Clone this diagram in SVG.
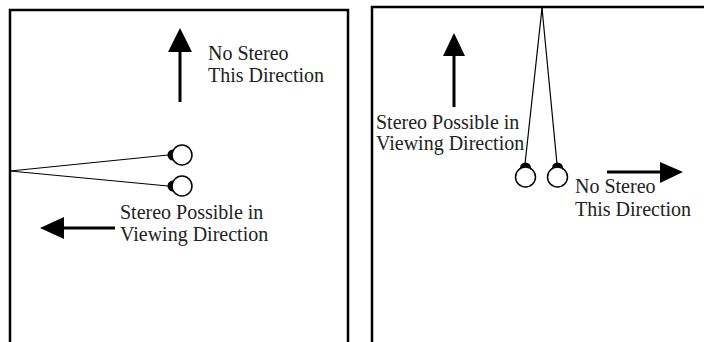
<svg xmlns="http://www.w3.org/2000/svg" width="704" height="342" viewBox="0 0 704 342">
<style>
.frame{fill:none;stroke:#000;stroke-width:2.5}
.ray{fill:none;stroke:#000;stroke-width:1.2}
.shaft{fill:none;stroke:#000;stroke-width:3}
.head{fill:#000}
.cam{fill:#fff;stroke:#000;stroke-width:1.5}
.cap{fill:#000}
text{font-family:"Liberation Serif","Times New Roman",serif;font-size:20px;fill:#222}
</style>
<rect width="704" height="342" fill="#fff"/>
<g id="panel-left">
<rect class="frame" x="10" y="10" width="338" height="340"/>
</g>
<g id="panel-right">
<rect class="frame" x="372" y="7" width="340" height="345"/>
</g>
<g id="connectors">
<path class="ray" d="M10,171 L168,155"/>
<path class="ray" d="M10,171 L168,186"/>
<path class="ray" d="M542,8 L525,164"/>
<path class="ray" d="M542,8 L557,164"/>
<path class="shaft" d="M180,102 L180,48"/>
<path class="head" d="M180,28 L192,52 L168,52 Z"/>
<path class="shaft" d="M115,228 L60,228"/>
<path class="head" d="M40,228 L64,217 L64,239 Z"/>
<path class="shaft" d="M454,107 L454,52"/>
<path class="head" d="M454,33 L465,56 L443,56 Z"/>
<path class="shaft" d="M607,172 L664,172"/>
<path class="head" d="M683,172 L660,162 L660,183 Z"/>
</g>
<g id="cam-left-1">
<circle class="cap" cx="173" cy="155" r="5.5"/>
<circle class="cam" cx="182" cy="155" r="10"/>
</g>
<g id="cam-left-2">
<circle class="cap" cx="173" cy="186" r="5.5"/>
<circle class="cam" cx="182" cy="186" r="10"/>
</g>
<g id="cam-right-1">
<circle class="cap" cx="525.5" cy="168" r="5.5"/>
<circle class="cam" cx="525.5" cy="177" r="10"/>
</g>
<g id="cam-right-2">
<circle class="cap" cx="557.5" cy="168" r="5.5"/>
<circle class="cam" cx="557.5" cy="177" r="10"/>
</g>
<g id="label-left-up">
<text x="208" y="60">No Stereo</text>
<text x="208" y="82">This Direction</text>
</g>
<g id="label-left-left">
<text x="120" y="219">Stereo Possible in</text>
<text x="120" y="241">Viewing Direction</text>
</g>
<g id="label-right-up">
<text x="376" y="129">Stereo Possible in</text>
<text x="376" y="150">Viewing Direction</text>
</g>
<g id="label-right-right">
<text x="575" y="193">No Stereo</text>
<text x="575" y="216">This Direction</text>
</g>
</svg>
